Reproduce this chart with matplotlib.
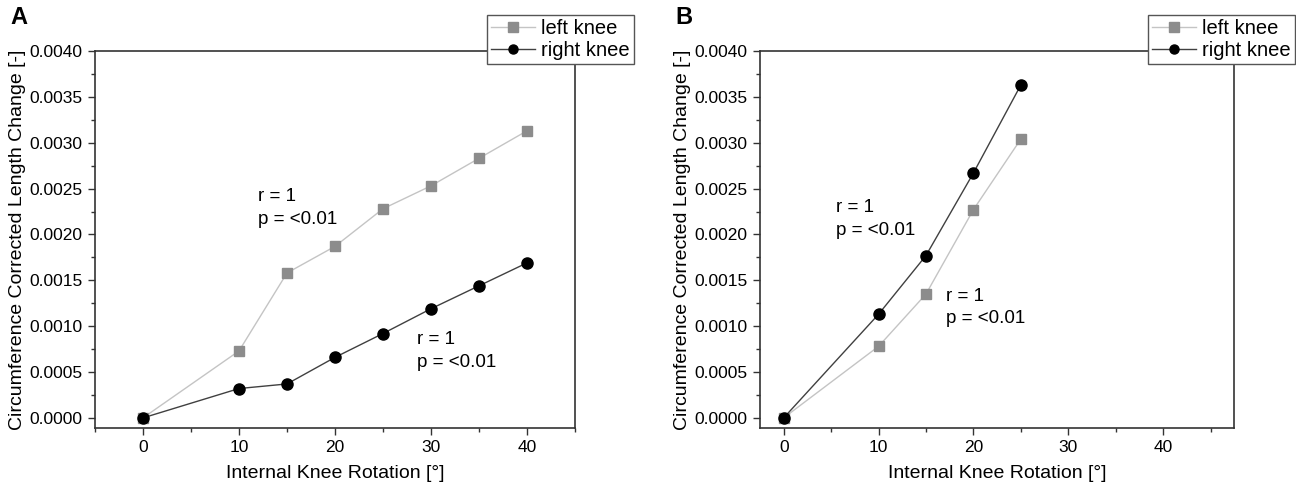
import matplotlib
matplotlib.use("Agg")
import matplotlib.pyplot as plt
from matplotlib.ticker import MultipleLocator, FormatStrFormatter

plt.rcParams['font.family'] = ['Liberation Sans', 'DejaVu Sans']

# Panel A data
a_x = [0, 10, 15, 20, 25, 30, 35, 40]
a_left = [0.0, 0.00073, 0.00158, 0.00187, 0.00228, 0.00253, 0.00283, 0.00313]
a_right = [0.0, 0.00032, 0.00037, 0.00066, 0.00092, 0.00119, 0.00144, 0.00169]

# Panel B data
b_x = [0, 10, 15, 20, 25]
b_left = [0.0, 0.00078, 0.00135, 0.00227, 0.00304]
b_right = [0.0, 0.00113, 0.00177, 0.00267, 0.00363]

annot_text = "r = 1\np = <0.01"
a_annots = [(12.0, 0.00251), (28.5, 0.00095)]
b_annots = [(5.5, 0.00239), (17.1, 0.00142)]

fig = plt.figure(figsize=(12.96, 4.88), dpi=100)
axA = fig.add_axes([0.0733, 0.123, 0.3704, 0.7725])
axB = fig.add_axes([0.5864, 0.123, 0.3660, 0.7725])

def style(ax, x, left, right, annots, xlim, legend_anchor):
    ax.plot(x, left, color='#c4c4c4', lw=1.0, marker='s', ms=7,
            mfc='#8c8c8c', mec='#8c8c8c', label='left knee', zorder=3)
    ax.plot(x, right, color='#404040', lw=1.0, marker='o', ms=8,
            mfc='black', mec='black', label='right knee', zorder=4)
    ax.set_xlim(*xlim)
    ax.set_ylim(-0.00011, 0.0040)
    ax.xaxis.set_major_locator(MultipleLocator(10))
    ax.xaxis.set_minor_locator(MultipleLocator(5))
    ax.yaxis.set_major_locator(MultipleLocator(0.0005))
    ax.yaxis.set_minor_locator(MultipleLocator(0.00025))
    ax.yaxis.set_major_formatter(FormatStrFormatter('%.4f'))
    ax.tick_params(which='major', direction='out', length=5, width=1.0,
                   labelsize=12.5, color='#333333', pad=4)
    ax.tick_params(which='minor', direction='out', length=3, width=1.0, color='#333333')
    for s in ax.spines.values():
        s.set_linewidth(1.2)
        s.set_color('#333333')
    ax.set_xlabel('Internal Knee Rotation [°]', fontsize=14, labelpad=7)
    ax.set_ylabel('Circumference Corrected Length Change [-]', fontsize=14, labelpad=2)
    for (tx, ty) in annots:
        ax.text(tx, ty, annot_text, fontsize=13.5, va='top', ha='left',
                linespacing=1.45)
    leg = ax.legend(loc='upper right', bbox_to_anchor=legend_anchor,
                    fontsize=14.5, frameon=True, fancybox=False,
                    handlelength=2.2, handletextpad=0.3, borderpad=0.2,
                    labelspacing=0.15, borderaxespad=0)
    for h in leg.legend_handles:
        h.set_markersize(6.5)
    leg.get_frame().set_edgecolor('#555555')
    leg.get_frame().set_linewidth(1.0)
    leg.get_frame().set_alpha(1.0)

style(axA, a_x, a_left, a_right, a_annots, (-5, 45), (1.123, 1.095))
style(axB, b_x, b_left, b_right, b_annots, (-2.5, 47.5), (1.128, 1.095))

fig.text(0.008, 0.965, 'A', fontsize=17, fontweight='bold', va='center')
fig.text(0.521, 0.965, 'B', fontsize=17, fontweight='bold', va='center')

fig.savefig('out.png', dpi=100)
